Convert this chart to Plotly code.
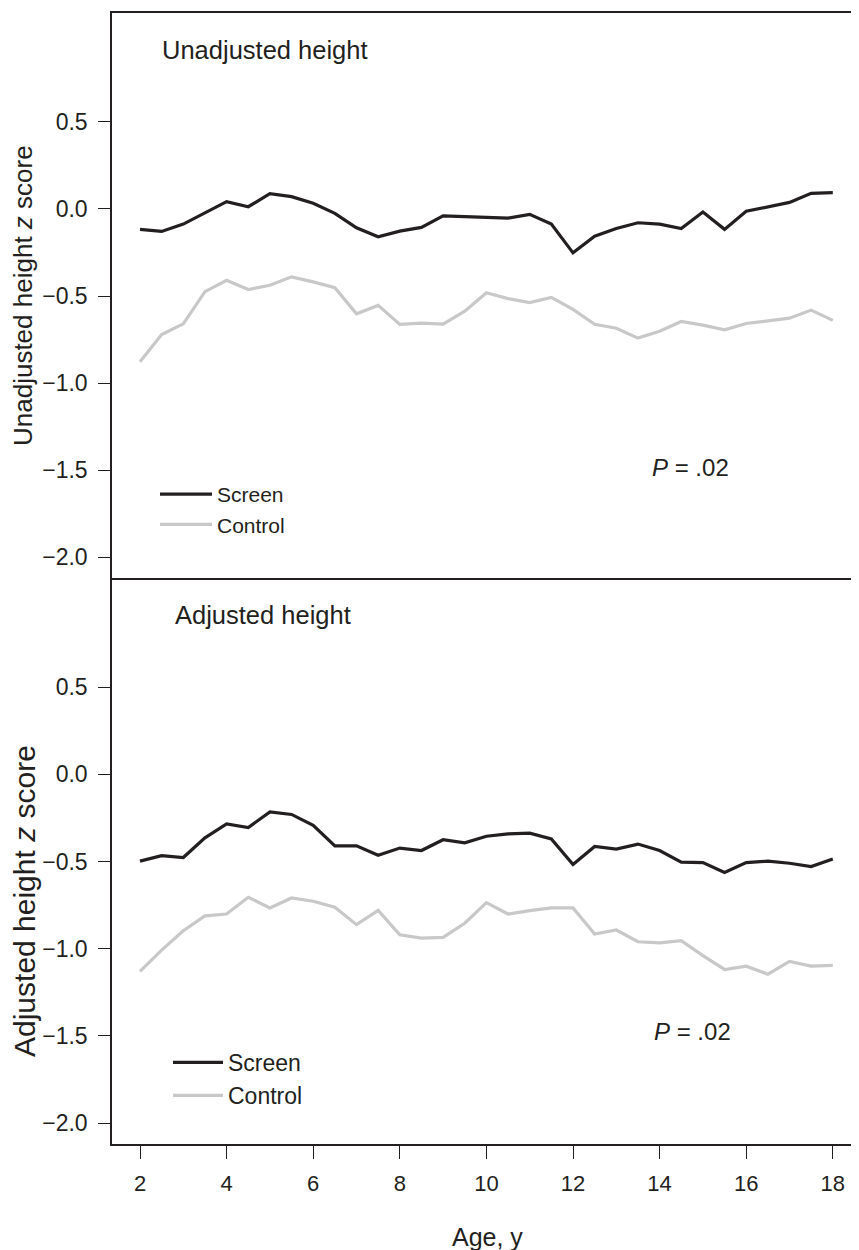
import plotly.graph_objects as go

ages = [2 + 0.5 * i for i in range(33)]

unadj_screen = [-0.117, -0.129, -0.087, -0.025, 0.042, 0.013, 0.088, 0.071, 0.033, -0.025,
                -0.108, -0.160, -0.127, -0.106, -0.040, -0.044, -0.046, -0.052, -0.031, -0.087,
                -0.252, -0.156, -0.112, -0.079, -0.087, -0.112, -0.017, -0.117, -0.013, 0.013,
                0.038, 0.090, 0.094]
unadj_control = [-0.877, -0.721, -0.660, -0.475, -0.410, -0.463, -0.438, -0.390, -0.419, -0.452,
                 -0.602, -0.554, -0.663, -0.656, -0.662, -0.587, -0.481, -0.515, -0.538, -0.508,
                 -0.577, -0.662, -0.685, -0.742, -0.702, -0.646, -0.667, -0.694, -0.658, -0.642,
                 -0.627, -0.581, -0.640]
adj_screen = [-0.498, -0.466, -0.477, -0.364, -0.284, -0.305, -0.215, -0.230, -0.293, -0.410,
              -0.410, -0.464, -0.423, -0.437, -0.375, -0.393, -0.355, -0.341, -0.337, -0.370,
              -0.517, -0.414, -0.429, -0.400, -0.437, -0.504, -0.506, -0.563, -0.506, -0.498,
              -0.510, -0.529, -0.485]
adj_control = [-1.130, -1.008, -0.897, -0.812, -0.801, -0.705, -0.766, -0.709, -0.728, -0.762,
               -0.862, -0.780, -0.920, -0.939, -0.935, -0.854, -0.736, -0.801, -0.782, -0.766,
               -0.766, -0.916, -0.893, -0.960, -0.966, -0.954, -1.040, -1.119, -1.100, -1.146,
               -1.073, -1.100, -1.096]

x_ticks = [2, 4, 6, 8, 10, 12, 14, 16, 18]
y_ticks = [0.5, 0.0, -0.5, -1.0, -1.5, -2.0]

# page has an 8px body margin; figure coordinates are page coordinates minus 8
OFF = 8
W, H = 859 - OFF, 1250 - OFF
L, R, T, B = 112 - OFF, 0, 13 - OFF, 106
PW, PH = W - L - R, H - T - B


def xp(px):
    return (px - OFF - L) / PW


def yp(py):
    return (H - B - (py - OFF)) / PH


SCREEN = "#231f20"
CONTROL = "#c8c8c8"
FONT = "Liberation Sans, Arial, sans-serif"
AX = "#231f20"

fig = go.Figure()
# top panel (x2, y2)
fig.add_trace(go.Scatter(x=ages, y=unadj_screen, mode="lines", name="Screen",
                         line=dict(color=SCREEN, width=3.2), xaxis="x2", yaxis="y2", legend="legend"))
fig.add_trace(go.Scatter(x=ages, y=unadj_control, mode="lines", name="Control",
                         line=dict(color=CONTROL, width=3.2), xaxis="x2", yaxis="y2", legend="legend"))
# bottom panel (x, y)
fig.add_trace(go.Scatter(x=ages, y=adj_screen, mode="lines", name="Screen",
                         line=dict(color=SCREEN, width=3.2), xaxis="x", yaxis="y", legend="legend2"))
fig.add_trace(go.Scatter(x=ages, y=adj_control, mode="lines", name="Control",
                         line=dict(color=CONTROL, width=3.2), xaxis="x", yaxis="y", legend="legend2"))

split = yp(578)
PX_PER_YEAR = 43.3
x0 = 2 - (140 - 112) / PX_PER_YEAR
xrange = [x0, x0 + PW / PX_PER_YEAR]
yrange = [-2.12, 1.126]

yaxis_common = dict(range=yrange, tickvals=y_ticks, tickformat=".1f", ticks="outside",
                    ticklen=12, tickwidth=1.2, tickcolor=AX, showline=True, linecolor=AX,
                    linewidth=1.5, showgrid=False, zeroline=False,
                    tickfont=dict(family=FONT, size=23, color="#231f20"), ticklabelstandoff=6)

fig.update_layout(
    width=W, height=H, autosize=False,
    margin=dict(l=L, r=R, t=T, b=B),
    paper_bgcolor="white", plot_bgcolor="white",
    font=dict(family=FONT, color="#231f20"),
    xaxis=dict(domain=[0, 1], anchor="y", range=xrange, tickvals=x_ticks, ticks="outside",
               ticklen=13, tickwidth=1.2, tickcolor=AX, showline=True, linecolor=AX,
               linewidth=1.5, showgrid=False, zeroline=False,
               tickfont=dict(family=FONT, size=22, color="#231f20"), ticklabelstandoff=6),
    yaxis=dict(domain=[0, split], anchor="x", **yaxis_common),
    xaxis2=dict(domain=[0, 1], anchor="y2", range=xrange, showticklabels=False, ticks="",
                showline=True, mirror=True, linecolor=AX, linewidth=1.5, showgrid=False,
                zeroline=False),
    yaxis2=dict(domain=[split, 1], anchor="x2", **yaxis_common),
    legend=dict(x=xp(155), y=yp(474), xanchor="left", yanchor="top", itemwidth=52,
                bgcolor="rgba(0,0,0,0)", font=dict(family=FONT, size=21), tracegroupgap=0),
    legend2=dict(x=xp(168), y=yp(1041), xanchor="left", yanchor="top", itemwidth=50,
                 bgcolor="rgba(0,0,0,0)", font=dict(family=FONT, size=23), tracegroupgap=0),
    showlegend=True,
)

ann = [
    dict(text="Unadjusted height", x=xp(160), y=yp(50), xanchor="left", yanchor="middle",
         font=dict(size=25.5)),
    dict(text="Adjusted height", x=xp(173), y=yp(615), xanchor="left", yanchor="middle",
         font=dict(size=25.5)),
    dict(text="<i>P</i> = .02", x=xp(650), y=yp(467), xanchor="left", yanchor="middle",
         font=dict(size=24)),
    dict(text="<i>P</i> = .02", x=xp(652), y=yp(1031), xanchor="left", yanchor="middle",
         font=dict(size=24)),
    dict(text="Unadjusted height <i>z</i> score", x=xp(23), y=yp(296), xanchor="center",
         yanchor="middle", textangle=-90, font=dict(size=26)),
    dict(text="Adjusted height <i>z</i> score", x=xp(24), y=yp(901), xanchor="center",
         yanchor="middle", textangle=-90, font=dict(size=30)),
    dict(text="Age, y", x=xp(487), y=yp(1237), xanchor="center", yanchor="middle",
         font=dict(size=25)),
]
for a in ann:
    a.update(xref="paper", yref="paper", showarrow=False)
    a["font"] = dict(family=FONT, color="#231f20", **a["font"])
fig.update_layout(annotations=ann)

fig.write_html("out.html")
